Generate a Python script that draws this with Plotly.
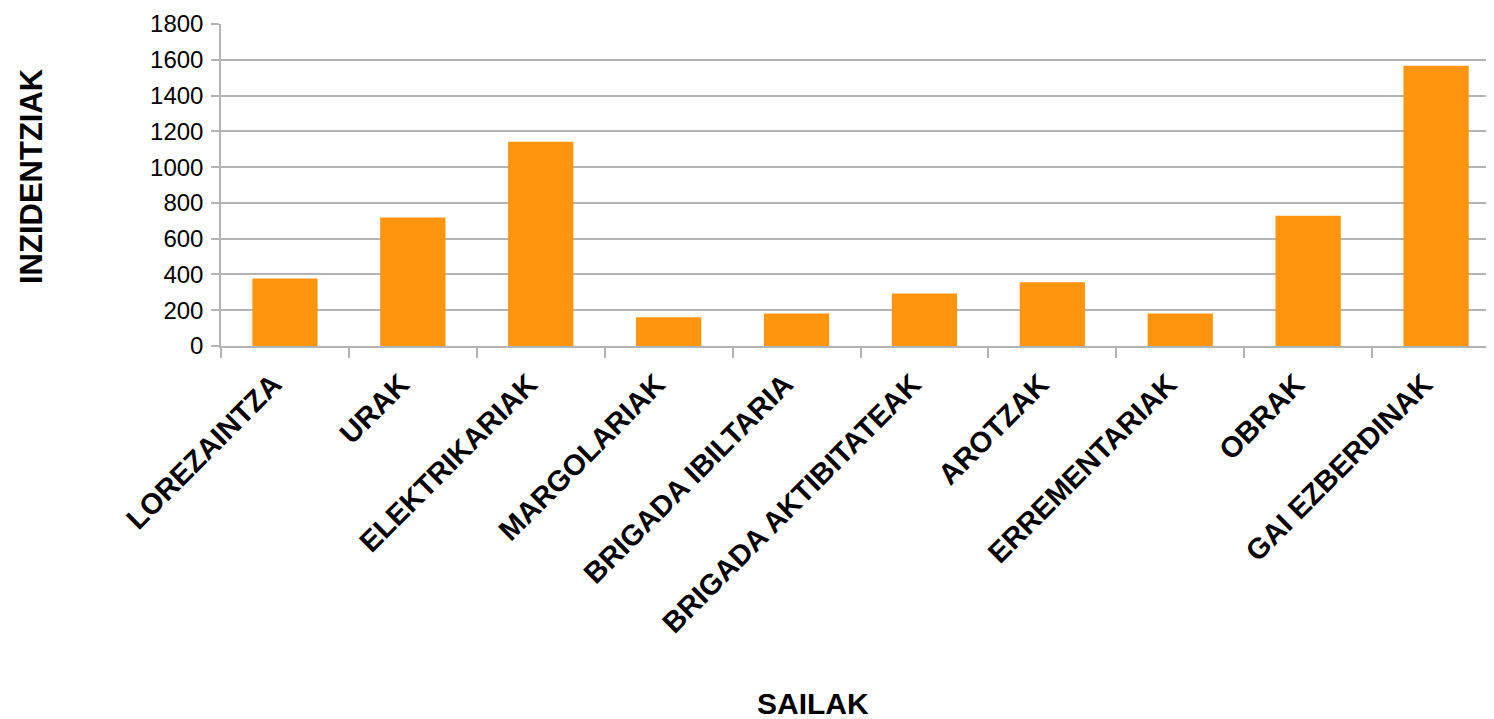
import plotly.graph_objects as go

categories = ["LOREZAINTZA", "URAK", "ELEKTRIKARIAK", "MARGOLARIAK", "BRIGADA IBILTARIA",
              "BRIGADA AKTIBITATEAK", "AROTZAK", "ERREMENTARIAK", "OBRAK", "GAI EZBERDINAK"]
values = [377, 719, 1142, 161, 181, 293, 357, 181, 728, 1566]
y_ticks = [0, 200, 400, 600, 800, 1000, 1200, 1400, 1600, 1800]

grid = "#b3b3b3"
fig = go.Figure(go.Bar(x=categories, y=values, marker=dict(color="#ff950e", line=dict(width=0))))

W, H = 1486, 711
L, T, B = 213, 16, 373
pw, ph = W - L, H - T - B

fig.update_layout(
    width=W, height=H,
    margin=dict(l=L, r=0, t=T, b=B, autoexpand=False),
    plot_bgcolor="white", paper_bgcolor="white",
    bargap=0.49, showlegend=False,
    font=dict(family="Liberation Sans", color="black"),
)
fig.update_xaxes(
    type="category", range=[-0.5, 9.453],
    showline=True, linecolor=grid, linewidth=1.5,
    ticks="outside", tickson="boundaries", ticklen=10, tickcolor=grid, tickwidth=1.5,
    tickangle=-45, ticklabelstandoff=8, ticklabelshift=-12,
    tickfont=dict(family="Liberation Sans", size=29, color="black", weight="bold"),
    showgrid=False,
)
fig.update_yaxes(
    range=[0, 1800], tickvals=y_ticks,
    showline=True, linecolor=grid, linewidth=1.5,
    ticks="outside", ticklen=8, tickcolor=grid, tickwidth=1.5,
    showgrid=True, gridcolor=grid, gridwidth=1.5,
    zeroline=False, ticklabelstandoff=3,
    tickfont=dict(family="Liberation Sans", size=24, color="black"),
)
fig.add_annotation(text="<b>SAILAK</b>", xref="paper", yref="paper",
                   x=(805 - L) / pw, y=-(695 - (T + ph)) / ph,
                   xanchor="center", yanchor="middle", showarrow=False, borderpad=0,
                   font=dict(family="Liberation Sans", size=30, color="black"))
fig.add_annotation(text="<b>INZIDENTZIAK</b>", xref="paper", yref="paper",
                   x=-(L - 23) / pw, y=((T + ph) - 168) / ph,
                   xanchor="center", yanchor="middle", textangle=-90, showarrow=False,
                   font=dict(family="Liberation Sans", size=31, color="black"))
fig.write_html("out.html")
